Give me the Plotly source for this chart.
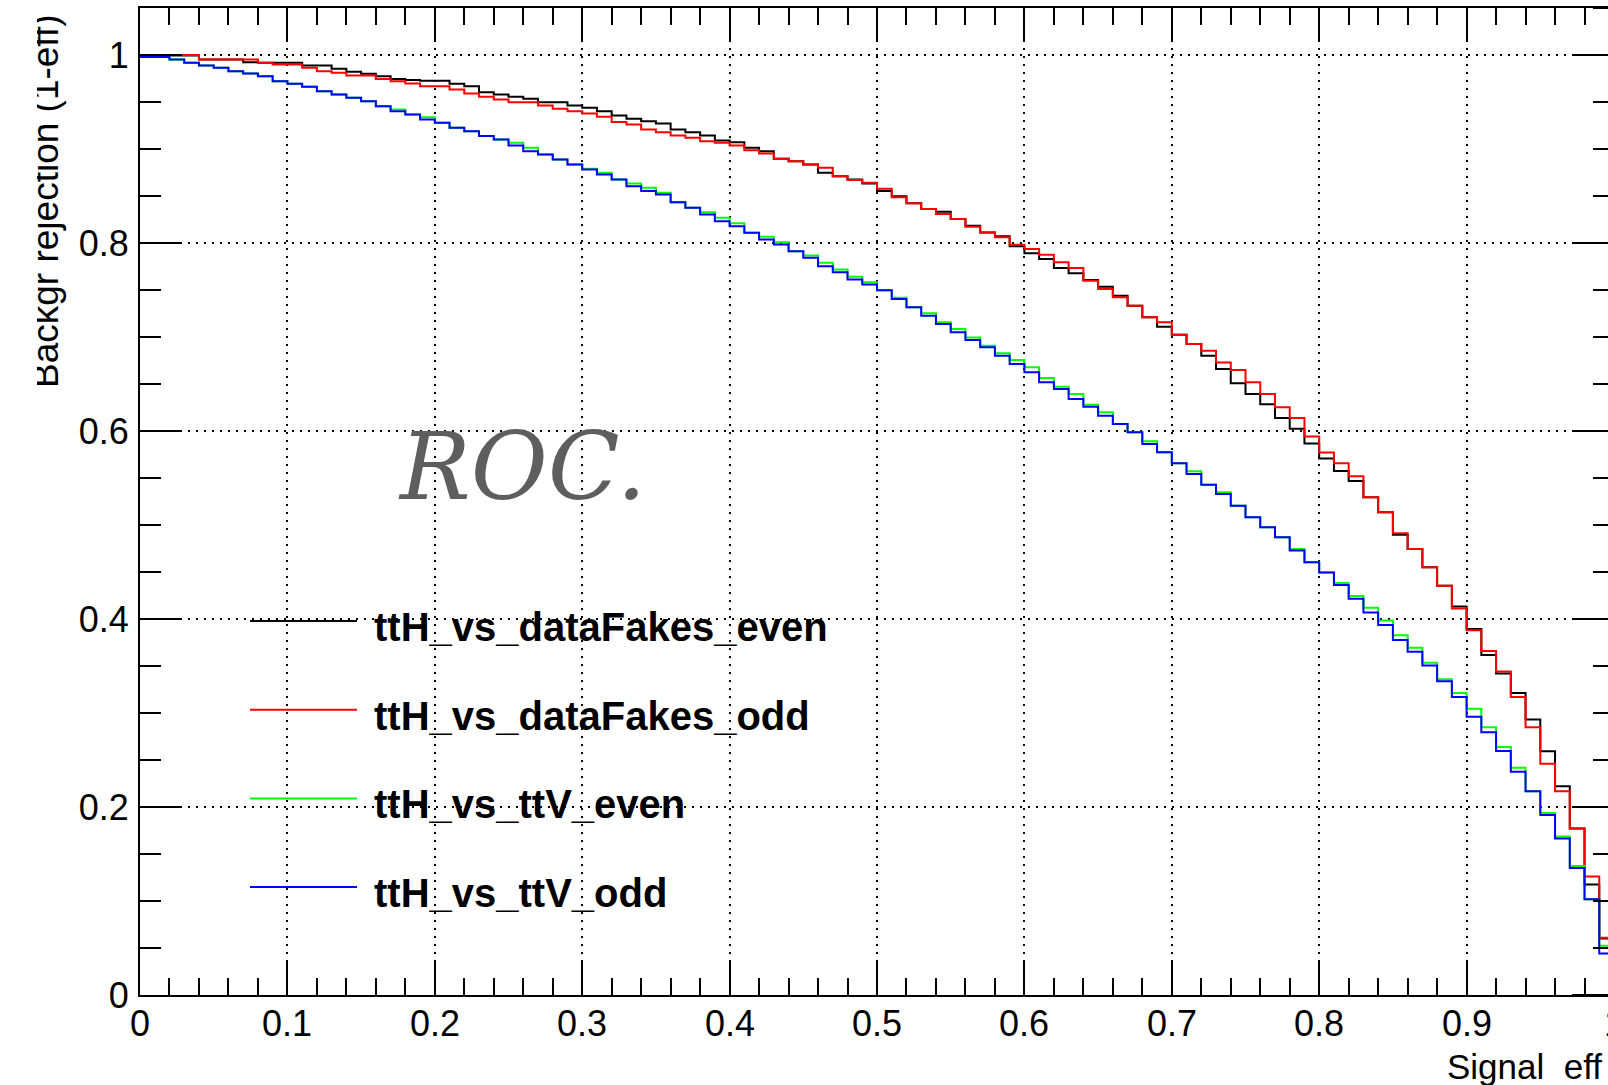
import numpy as np
import plotly.graph_objects as go

# ROC curves (background rejection vs signal efficiency), 100 bins in signal efficiency
n_bins = 100

ttH_vs_dataFakes_even = [
    1.0000, 1.0000, 0.9994, 0.9994, 0.9952, 0.9952, 0.9952, 0.9924, 0.9917, 0.9917,
    0.9917, 0.9888, 0.9888, 0.9853, 0.9821, 0.9800, 0.9775, 0.9746, 0.9735, 0.9725,
    0.9725, 0.9693, 0.9668, 0.9605, 0.9580, 0.9555, 0.9534, 0.9498, 0.9498, 0.9463,
    0.9438, 0.9402, 0.9356, 0.9321, 0.9296, 0.9271, 0.9207, 0.9179, 0.9144, 0.9090,
    0.9073, 0.9012, 0.8977, 0.8895, 0.8871, 0.8835, 0.8747, 0.8711, 0.8676, 0.8633,
    0.8552, 0.8498, 0.8422, 0.8362, 0.8333, 0.8255, 0.8184, 0.8113, 0.8071, 0.7965,
    0.7890, 0.7830, 0.7734, 0.7677, 0.7606, 0.7535, 0.7440, 0.7333, 0.7209, 0.7110,
    0.7025, 0.6926, 0.6801, 0.6660, 0.6507, 0.6394, 0.6284, 0.6138, 0.6025, 0.5866,
    0.5707, 0.5574, 0.5469, 0.5294, 0.5135, 0.4896, 0.4746, 0.4550, 0.4353, 0.4132,
    0.3893, 0.3617, 0.3421, 0.3212, 0.2932, 0.2593, 0.2221, 0.1770, 0.1176, 0.0600,
]

ttH_vs_dataFakes_odd = [
    1.0000, 1.0000, 1.0000, 1.0000, 0.9952, 0.9952, 0.9952, 0.9952, 0.9917, 0.9899,
    0.9899, 0.9864, 0.9828, 0.9810, 0.9782, 0.9782, 0.9746, 0.9722, 0.9697, 0.9668,
    0.9668, 0.9633, 0.9590, 0.9555, 0.9527, 0.9498, 0.9498, 0.9463, 0.9427, 0.9402,
    0.9378, 0.9342, 0.9286, 0.9261, 0.9207, 0.9179, 0.9144, 0.9119, 0.9083, 0.9066,
    0.9037, 0.8988, 0.8952, 0.8895, 0.8871, 0.8835, 0.8800, 0.8711, 0.8669, 0.8640,
    0.8577, 0.8486, 0.8422, 0.8362, 0.8309, 0.8255, 0.8174, 0.8113, 0.8060, 0.7982,
    0.7936, 0.7876, 0.7794, 0.7734, 0.7599, 0.7511, 0.7422, 0.7333, 0.7209, 0.7156,
    0.7025, 0.6926, 0.6855, 0.6730, 0.6649, 0.6518, 0.6394, 0.6252, 0.6138, 0.5941,
    0.5770, 0.5657, 0.5519, 0.5294, 0.5135, 0.4913, 0.4746, 0.4550, 0.4353, 0.4111,
    0.3881, 0.3659, 0.3442, 0.3170, 0.2848, 0.2460, 0.2167, 0.1770, 0.1260, 0.0608,
]

ttH_vs_ttV_even = [
    1.0000, 0.9980, 0.9952, 0.9917, 0.9888, 0.9864, 0.9828, 0.9803, 0.9775, 0.9722,
    0.9693, 0.9661, 0.9615, 0.9580, 0.9544, 0.9509, 0.9456, 0.9420, 0.9367, 0.9339,
    0.9278, 0.9225, 0.9190, 0.9137, 0.9101, 0.9066, 0.9012, 0.8941, 0.8888, 0.8835,
    0.8790, 0.8747, 0.8676, 0.8633, 0.8587, 0.8534, 0.8434, 0.8374, 0.8328, 0.8268,
    0.8210, 0.8108, 0.8066, 0.8009, 0.7913, 0.7867, 0.7789, 0.7718, 0.7640, 0.7583,
    0.7498, 0.7417, 0.7316, 0.7252, 0.7156, 0.7085, 0.6996, 0.6908, 0.6826, 0.6755,
    0.6677, 0.6564, 0.6472, 0.6394, 0.6280, 0.6199, 0.6074, 0.5986, 0.5890, 0.5773,
    0.5656, 0.5571, 0.5429, 0.5348, 0.5206, 0.5082, 0.4975, 0.4869, 0.4746, 0.4604,
    0.4495, 0.4382, 0.4244, 0.4119, 0.3985, 0.3826, 0.3693, 0.3534, 0.3358, 0.3212,
    0.3045, 0.2848, 0.2639, 0.2418, 0.2167, 0.1937, 0.1686, 0.1373, 0.1018, 0.0524,
]

ttH_vs_ttV_odd = [
    0.9980, 0.9980, 0.9952, 0.9917, 0.9888, 0.9864, 0.9828, 0.9803, 0.9775, 0.9722,
    0.9693, 0.9661, 0.9615, 0.9580, 0.9544, 0.9509, 0.9456, 0.9402, 0.9367, 0.9314,
    0.9278, 0.9225, 0.9190, 0.9137, 0.9101, 0.9037, 0.8977, 0.8941, 0.8888, 0.8835,
    0.8782, 0.8729, 0.8676, 0.8605, 0.8552, 0.8516, 0.8434, 0.8374, 0.8303, 0.8232,
    0.8179, 0.8108, 0.8037, 0.7984, 0.7913, 0.7842, 0.7753, 0.7689, 0.7612, 0.7558,
    0.7498, 0.7404, 0.7316, 0.7227, 0.7138, 0.7050, 0.6968, 0.6890, 0.6801, 0.6713,
    0.6624, 0.6518, 0.6447, 0.6340, 0.6259, 0.6163, 0.6074, 0.5986, 0.5862, 0.5773,
    0.5656, 0.5543, 0.5429, 0.5330, 0.5206, 0.5082, 0.4975, 0.4869, 0.4729, 0.4604,
    0.4495, 0.4361, 0.4215, 0.4069, 0.3935, 0.3776, 0.3651, 0.3505, 0.3337, 0.3170,
    0.2961, 0.2794, 0.2597, 0.2376, 0.2167, 0.1916, 0.1665, 0.1352, 0.1018, 0.0441,
]

series_names = ["ttH_vs_dataFakes_even", "ttH_vs_dataFakes_odd", "ttH_vs_ttV_even", "ttH_vs_ttV_odd"]
series_values = [ttH_vs_dataFakes_even, ttH_vs_dataFakes_odd, ttH_vs_ttV_even, ttH_vs_ttV_odd]
series_colors = ["#000000", "#ff0000", "#00ff00", "#0000ff"]

x_tick_values = [0, 0.1, 0.2, 0.3, 0.4, 0.5, 0.6, 0.7, 0.8, 0.9, 1.0]
x_tick_labels = ["0", "0.1", "0.2", "0.3", "0.4", "0.5", "0.6", "0.7", "0.8", "0.9", "1"]
y_tick_values = [0, 0.2, 0.4, 0.6, 0.8, 1.0]
y_tick_labels = ["0", "0.2", "0.4", "0.6", "0.8", "1"]
y_minor_values = [0.05 * k for k in range(22)]

x_title = "Signal  eff"
y_title = "Backgr rejection (1-eff)"
note_text = "ROC."

# canvas geometry (the frame runs slightly past the right edge of the page)
W, H = 1608, 1085
L, T, B = 140, 8, 90
px_per_unit_x = 1474.0
x_end = (W - L) / px_per_unit_x
y_max = 1.05
plot_h = H - T - B


def paper_x(px):
    return (px - L) / (W - L)


def paper_y(py):
    return (H - B - py) / plot_h


edges = np.linspace(0.0, 1.0, n_bins + 1)

fig = go.Figure()
for name, vals, col in zip(series_names, series_values, series_colors):
    fig.add_trace(go.Scatter(
        x=edges, y=list(vals) + [vals[-1]],
        mode="lines", line=dict(color=col, width=2, shape="hv"),
        name=name, showlegend=False, hoverinfo="skip",
    ))

sans = "Liberation Sans, Arial, sans-serif"
tick_font = dict(family=sans, size=36, color="black")

fig.update_layout(
    width=W, height=H,
    margin=dict(l=L, r=0, t=T, b=B),
    paper_bgcolor="white", plot_bgcolor="white",
    showlegend=False,
    xaxis=dict(
        range=[0, x_end], tickvals=x_tick_values[:-1], showticklabels=False,
        ticks="inside", ticklen=34, tickwidth=2, tickcolor="black",
        showline=True, linewidth=2, linecolor="black", mirror="ticks",
        showgrid=True, gridcolor="black", gridwidth=2, griddash="2px,6px",
        zeroline=False,
        minor=dict(dtick=0.02, tick0=0, ticks="inside", ticklen=17, tickwidth=2,
                   tickcolor="black", showgrid=False),
    ),
    yaxis=dict(
        range=[0, y_max], tickvals=y_tick_values, ticktext=y_tick_labels,
        ticks="inside", ticklen=42, tickwidth=2, tickcolor="black",
        showline=True, linewidth=2, linecolor="black", mirror=False,
        showgrid=True, gridcolor="black", gridwidth=2, griddash="2px,6px",
        zeroline=False, tickfont=tick_font, ticklabelstandoff=2,
        minor=dict(dtick=0.05, tick0=0, ticks="inside", ticklen=21, tickwidth=2,
                   tickcolor="black", showgrid=False),
    ),
)

# ticks along the right-hand frame edge (x = 1)
shapes = []
for v in y_minor_values:
    is_major = any(abs(v - m) < 1e-9 for m in y_tick_values)
    length = (42 if is_major else 21) / px_per_unit_x
    shapes.append(dict(type="line", xref="x", yref="y", x0=1.0 - length, x1=1.0, y0=v, y1=v,
                       line=dict(color="black", width=2)))

annotations = []

# x tick labels, placed just under the axis line
label_y = paper_y(1023)
for v, lab in zip(x_tick_values, x_tick_labels):
    if v <= x_end:
        annotations.append(dict(text=lab, xref="x", yref="paper", x=v, y=label_y,
                                xanchor="center", yanchor="middle", showarrow=False, font=tick_font))
    else:
        # label at the frame's right end, just past the page edge
        annotations.append(dict(text=lab, xref="paper", yref="paper", x=paper_x(L + v * px_per_unit_x),
                                y=label_y, xanchor="center", yanchor="middle", showarrow=False,
                                font=tick_font))

# legend: line samples and bold labels
leg_line_y0 = 621
leg_step = 88.7
for k, (name, col) in enumerate(zip(series_names, series_colors)):
    yy = leg_line_y0 + k * leg_step
    shapes.append(dict(type="line", xref="paper", yref="paper",
                       x0=paper_x(250), x1=paper_x(357), y0=paper_y(yy), y1=paper_y(yy),
                       line=dict(color=col, width=2)))
    annotations.append(dict(
        text=name, xref="paper", yref="paper", x=paper_x(372), y=paper_y(yy + 6),
        xanchor="left", yanchor="middle", showarrow=False,
        font=dict(family=sans, size=40, color="black", weight="bold"),
    ))

# axis titles
annotations.append(dict(
    text=x_title, xref="paper", yref="paper", x=paper_x(1445), y=paper_y(1066),
    xanchor="left", yanchor="middle", showarrow=False,
    font=dict(family=sans, size=35, color="black"),
))
annotations.append(dict(
    text=y_title, xref="paper", yref="paper", x=paper_x(45), y=paper_y(12),
    xanchor="center", yanchor="top", textangle=-90, showarrow=False,
    font=dict(family=sans, size=37, color="black"),
))
# the canvas edge trims the tops of the rotated title glyphs
annotations.append(dict(
    text=" ", xref="paper", yref="paper", x=paper_x(0), y=paper_y(0),
    xanchor="left", yanchor="top", showarrow=False, width=37, height=420,
    bgcolor="white", borderpad=0, borderwidth=0,
))
annotations.append(dict(
    text="<i>" + note_text + "</i>", xref="paper", yref="paper", x=paper_x(396), y=paper_y(466),
    xanchor="left", yanchor="middle", showarrow=False,
    font=dict(family="DejaVu Serif, serif", size=94, color="#5e5e5e"),
))

fig.update_layout(shapes=shapes, annotations=annotations)

fig.write_html("out.html")
